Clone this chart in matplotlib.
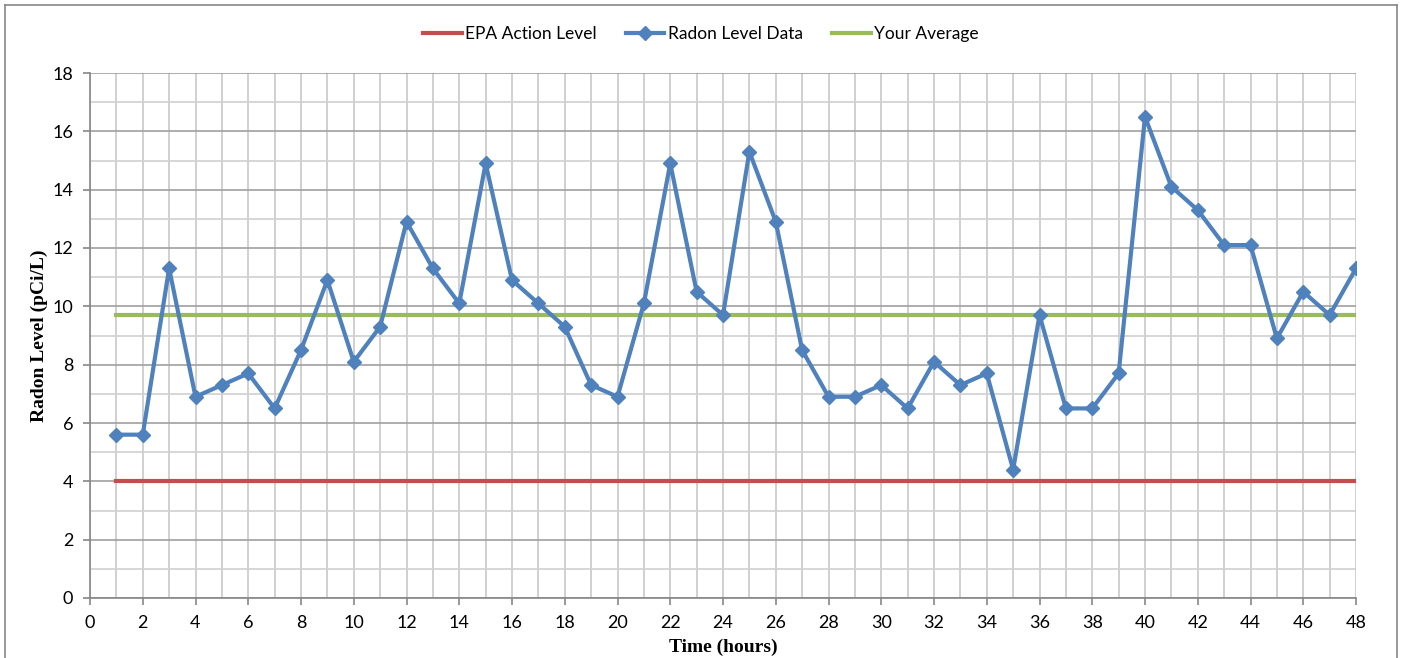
import matplotlib
matplotlib.use('Agg')
import matplotlib.pyplot as plt
from matplotlib.lines import Line2D
from matplotlib.ticker import MultipleLocator

hours = list(range(1, 49))
radon = [5.6, 5.6, 11.3, 6.9, 7.3, 7.7, 6.5, 8.5, 10.9, 8.1,
         9.3, 12.9, 11.3, 10.1, 14.9, 10.9, 10.1, 9.3, 7.3, 6.9,
         10.1, 14.9, 10.5, 9.7, 15.3, 12.9, 8.5, 6.9, 6.9, 7.3,
         6.5, 8.1, 7.3, 7.7, 4.4, 9.7, 6.5, 6.5, 7.7, 16.5,
         14.1, 13.3, 12.1, 12.1, 8.9, 10.5, 9.7, 11.3]
epa_level = 4.0
your_average = 9.7

RED = '#C0504D'
BLUE = '#4F81BD'
GREEN = '#9BBB59'

plt.rcParams['font.family'] = ['Lato', 'DejaVu Sans']

fig = plt.figure(figsize=(14.02, 6.58), dpi=100)
ax = fig.add_axes([90 / 1402, 60 / 658, 1266 / 1402, 525 / 658])

ax.plot([hours[0], hours[-1]], [epa_level, epa_level], color=RED, lw=3,
        label='EPA Action Level', zorder=3)
ax.plot(hours, radon, color=BLUE, lw=3, marker='D', markersize=7.5,
        label='Radon Level Data', zorder=4)
ax.plot([hours[0], hours[-1]], [your_average, your_average], color=GREEN, lw=3,
        label='Your Average', zorder=3)

ax.set_xlim(0, 48)
ax.set_ylim(0, 18)
ax.xaxis.set_major_locator(MultipleLocator(2))
ax.xaxis.set_minor_locator(MultipleLocator(1))
ax.yaxis.set_major_locator(MultipleLocator(2))
ax.yaxis.set_minor_locator(MultipleLocator(1))

# vertical grid all light; horizontal majors darker
ax.xaxis.grid(True, which='both', color='#C8C8C8', lw=1.2, zorder=0)
ax.yaxis.grid(True, which='minor', color='#D0D0D0', lw=1.2, zorder=0)
ax.yaxis.grid(True, which='major', color='#A0A0A0', lw=1.2, zorder=0)
ax.set_axisbelow(True)

for s in ['top', 'right']:
    ax.spines[s].set_visible(False)
for s in ['left', 'bottom']:
    ax.spines[s].set_color('#868686')
    ax.spines[s].set_linewidth(1.2)

ax.tick_params(which='major', direction='out', length=5, width=1.2,
               color='#868686', labelsize=13, pad=7)
ax.tick_params(which='minor', length=0)

ax.set_ylabel('Radon Level (pCi/L)', family='Liberation Serif',
              fontweight='bold', fontsize=14, labelpad=3)
ax.set_xlabel('Time (hours)', family='Liberation Serif',
              fontweight='bold', fontsize=14, labelpad=6)

handles = [
    Line2D([], [], color=RED, lw=3),
    Line2D([], [], color=BLUE, lw=3, marker='D', markersize=7.5),
    Line2D([], [], color=GREEN, lw=3),
]
fig.legend(handles, ['EPA Action Level', 'Radon Level Data', 'Your Average'],
           loc='center', bbox_to_anchor=(0.5, 1 - 34 / 658), ncol=3,
           frameon=False, fontsize=12.5, handlelength=2.2, handletextpad=0.2,
           columnspacing=1.7)

# chart border
fig.add_artist(Line2D([5 / 1402, 5 / 1402], [0, 1 - 5 / 658],
                      transform=fig.transFigure, color='#868686', lw=1.2))
fig.add_artist(Line2D([1397 / 1402, 1397 / 1402], [0, 1 - 5 / 658],
                      transform=fig.transFigure, color='#868686', lw=1.2))
fig.add_artist(Line2D([5 / 1402, 1397 / 1402], [1 - 5 / 658, 1 - 5 / 658],
                      transform=fig.transFigure, color='#868686', lw=1.2))

fig.savefig('out.png', dpi=100)
